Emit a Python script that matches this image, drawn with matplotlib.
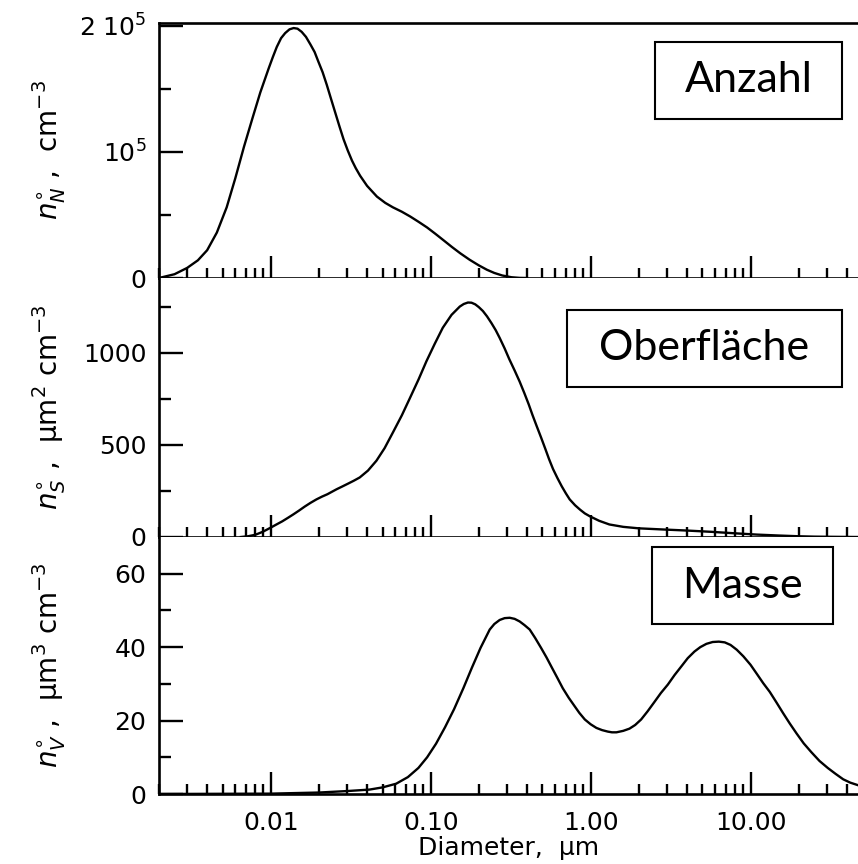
import matplotlib
matplotlib.use('Agg')
from matplotlib import pyplot as plt
from matplotlib.patches import Rectangle
from matplotlib.ticker import LogLocator, FixedLocator, NullFormatter

# Anzahl (number distribution), in units of 1e5 cm^-3
d_num = [0.002, 0.0025, 0.0030, 0.0035, 0.0040, 0.0046, 0.0053, 0.0060,
         0.0068, 0.0077, 0.0086, 0.0097, 0.0103, 0.0109, 0.0116, 0.0123,
         0.0131, 0.0139, 0.0147, 0.0156, 0.0166, 0.0177, 0.0188, 0.0199,
         0.0211, 0.0224, 0.0238, 0.0253, 0.0269, 0.0285, 0.0303, 0.0322,
         0.034, 0.0362, 0.040, 0.0461, 0.052, 0.058, 0.066, 0.0745, 0.084,
         0.095, 0.107, 0.12, 0.136, 0.153, 0.175, 0.20, 0.225, 0.25, 0.28,
         0.32, 0.36, 0.40]
n_num = [0.0, 0.03, 0.08, 0.14, 0.22, 0.36, 0.56, 0.79,
         1.04, 1.27, 1.47, 1.66, 1.75, 1.83, 1.90, 1.94,
         1.97, 1.98, 1.975, 1.95, 1.91, 1.85, 1.79, 1.71,
         1.63, 1.53, 1.42, 1.31, 1.20, 1.10, 1.01, 0.93,
         0.87, 0.81, 0.73, 0.645, 0.595, 0.56, 0.525, 0.487, 0.445,
         0.40, 0.35, 0.30, 0.245, 0.196, 0.145, 0.10, 0.065, 0.04, 0.02,
         0.006, 0.001, 0.0]

# Oberflaeche (surface distribution), um^2 cm^-3
d_surf = [0.0065, 0.0072, 0.0080, 0.0089, 0.0099, 0.0108, 0.0118, 0.0128,
          0.0138, 0.015, 0.0163, 0.0177, 0.0193, 0.0209, 0.0226, 0.0242,
          0.0258, 0.028, 0.0305, 0.033, 0.036, 0.0405, 0.0458, 0.0515,
          0.0582, 0.066, 0.074, 0.084, 0.094, 0.106, 0.119, 0.135, 0.152,
          0.161, 0.171, 0.18, 0.19, 0.2, 0.212, 0.225, 0.24, 0.255, 0.27,
          0.29, 0.31, 0.335, 0.36, 0.385, 0.41, 0.433, 0.458, 0.49, 0.52,
          0.55, 0.582, 0.62, 0.66, 0.70, 0.74, 0.80, 0.86, 0.92, 0.986,
          1.13, 1.31, 1.6, 2.0, 2.8, 4.0, 5.7, 8.0, 11.0, 15.0, 20.0,
          25.0, 33.0, 47.0]
n_surf = [0, 4, 12, 28, 49, 67, 85, 104,
          122, 143, 165, 185, 204, 219, 232, 246,
          259, 274, 290, 305, 323, 360, 414, 482,
          569, 660, 752, 855, 953, 1048, 1135, 1205, 1250,
          1264, 1272, 1271, 1262, 1247, 1226, 1197, 1160, 1122, 1080,
          1023, 965, 903, 843, 781, 720, 662, 606, 540, 480,
          422, 369, 320, 275, 237, 204, 172, 148, 128, 113,
          88, 68, 55, 47, 41, 35, 28, 20, 13, 8, 4,
          2, 1, 0]

# Masse (volume distribution), um^3 cm^-3
d_vol = [0.002, 0.01, 0.02, 0.03, 0.0414, 0.05, 0.0608, 0.072, 0.0838,
         0.095, 0.108, 0.123, 0.140, 0.160, 0.181, 0.205, 0.234, 0.25, 0.27,
         0.29, 0.312, 0.335, 0.36, 0.386, 0.416, 0.45, 0.49, 0.53, 0.573,
         0.62, 0.67, 0.73, 0.789, 0.85, 0.92, 1.0, 1.087, 1.18, 1.28,
         1.36, 1.45, 1.6, 1.75, 1.9, 2.07, 2.27, 2.5, 2.75, 3.04, 3.35,
         3.7, 4.05, 4.46, 4.85, 5.3, 5.8, 6.34, 6.9, 7.5, 8.2, 9.02, 10.0,
         11, 12.0, 13.2, 14.5, 16, 17.6, 19.4, 21.5, 24, 27, 30.4, 34,
         38, 42, 47]
n_vol = [0, 0.1, 0.4, 0.8, 1.2, 1.8, 2.8, 4.6, 7.1,
         10.0, 13.7, 18.2, 23.1, 28.8, 34.4, 39.8, 44.8, 46.3, 47.4,
         47.9, 48.0, 47.7, 47.0, 46.0, 44.8, 42.5, 39.8, 37.2, 34.4,
         31.6, 28.8, 26.2, 24.1, 22.1, 20.3, 19.0, 18.0, 17.4, 17.0,
         16.8, 16.8, 17.2, 17.8, 18.8, 20.3, 22.5, 25.0, 27.5, 29.8, 32.4,
         34.8, 37.0, 38.8, 40.0, 40.9, 41.4, 41.5, 41.3, 40.6, 39.3, 37.5, 35.2,
         32.6, 30.2, 27.8, 25.0, 22.0, 19.2, 16.5, 13.8, 11.4, 9.0, 7.1, 5.5,
         4.0, 3.1, 2.4]

x_ticks = [0.01, 0.1, 1, 10]
x_ticklabels = ['0.01', '0.10', '1.00', '10.00']

panels = [
    dict(x=d_num, y=[v * 1e5 for v in n_num], ylim=2.02e5,
         major=[0, 1e5, 2e5], minor=[0.5e5, 1.5e5],
         labels=['0', '$10^5$', '2 $10^5$'],
         ylabel=r'$n^{\circ}_{N}$ ,  cm$^{-3}$', box='Anzahl'),
    dict(x=d_surf, y=n_surf, ylim=1405,
         major=[0, 500, 1000], minor=[250, 750, 1250],
         labels=['0', '500', '1000'],
         ylabel=r'$n^{\circ}_{S}$ ,  µm$^2$ cm$^{-3}$', box='Oberfläche'),
    dict(x=d_vol, y=n_vol, ylim=70,
         major=[0, 20, 40, 60], minor=[10, 30, 50],
         labels=['0', '20', '40', '60'],
         ylabel=r'$n^{\circ}_{V}$ ,  µm$^3$ cm$^{-3}$', box='Masse'),
]

W, H = 858, 864
fig = plt.figure(figsize=(W / 100, H / 100), dpi=100)

# panel edges in pixels (top, bottom)
edges = [(23, 278), (278, 537), (537, 794)]
left = 159
# annotation boxes in pixels (x0, x1, y0, y1)
boxes = [(655, 842, 42, 119), (567, 842, 310, 387), (652, 833, 547, 624)]

for i, (p, (top, bot)) in enumerate(zip(panels, edges)):
    ax = fig.add_axes([left / W, 1 - bot / H, 1 - left / W, (bot - top) / H])
    ax.plot(p['x'], p['y'], color='black', lw=1.7)
    ax.set_xscale('log')
    ax.set_xlim(0.002, 47)
    ax.set_ylim(0, p['ylim'])

    ax.xaxis.set_major_locator(FixedLocator(x_ticks))
    ax.xaxis.set_minor_locator(LogLocator(base=10, subs=range(2, 10)))
    ax.xaxis.set_minor_formatter(NullFormatter())
    if i == 2:
        ax.set_xticklabels(x_ticklabels)
        ax.set_xlabel('Diameter,  µm', fontsize=18, labelpad=1)
    else:
        ax.set_xticklabels([])

    ax.set_yticks(p['major'])
    ax.set_yticklabels(p['labels'])
    ax.yaxis.set_minor_locator(FixedLocator(p['minor']))

    ax.tick_params(axis='both', which='major', direction='in', labelsize=18,
                   width=1.7, top=False, right=False)
    ax.tick_params(axis='y', which='major', length=17, pad=9)
    ax.tick_params(axis='y', which='minor', direction='in', length=8.5,
                   width=1.7, right=False)
    ax.tick_params(axis='x', which='major', length=15.5, pad=12)
    ax.tick_params(axis='x', which='minor', direction='in', length=7.5,
                   width=1.7, top=False)

    ax.spines['right'].set_visible(False)
    if i > 0:
        ax.spines['top'].set_visible(False)
    for s in ['left', 'bottom', 'top']:
        ax.spines[s].set_linewidth(1.9)

    ax.set_ylabel(p['ylabel'], fontsize=20)
    ax.yaxis.set_label_coords(-0.13, 0.5)

    x0, x1, y0, y1 = boxes[i]
    fig.patches.append(Rectangle((x0 / W, 1 - y1 / H), (x1 - x0) / W, (y1 - y0) / H,
                                 transform=fig.transFigure, fill=False,
                                 edgecolor='black', lw=1.5))
    fig.text((x0 + x1) / 2 / W, 1 - (y0 + y1) / 2 / H, p['box'],
             ha='center', va='center', fontsize=31, family='Lato')

plt.savefig('out.png', dpi=100)
